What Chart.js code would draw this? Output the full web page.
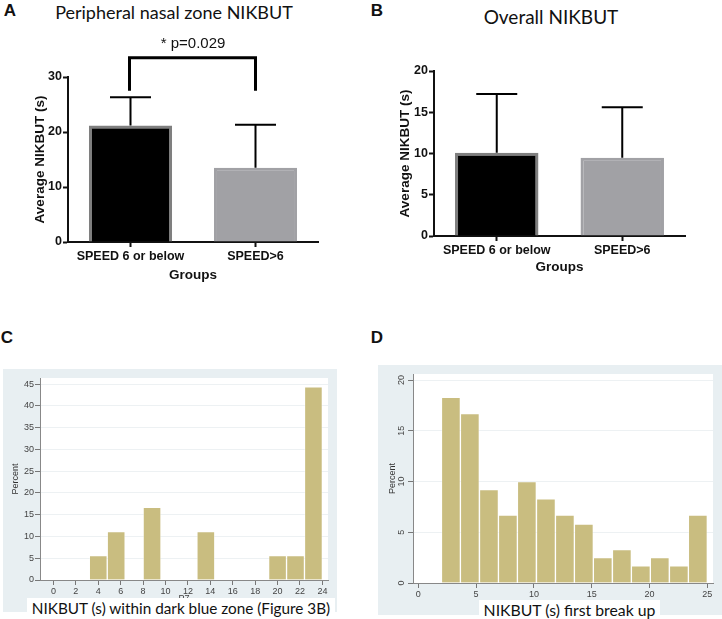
<!DOCTYPE html>
<html>
<head>
<meta charset="utf-8">
<script src="https://cdn.jsdelivr.net/npm/chart.js@4.4.1/dist/chart.umd.min.js"></script>
<style>
  body { margin: 0; width: 722px; height: 619px; position: relative; background: #fff; overflow: hidden;
         font-family: 'Liberation Sans', Arial, sans-serif; }
  .box { position: absolute; }
  .lbl { position: absolute; transform: translate(-50%, -50%); white-space: nowrap; color: #111; }
  .letter { font-weight: bold; font-size: 17px; }
  .ttl { font-family: Lato, 'Open Sans', sans-serif; font-size: 19px; }
  .cap { position: absolute; background: #fff; font-family: Lato, 'Open Sans', sans-serif; font-size: 15.5px;
         color: #111; text-align: center; white-space: nowrap; }
</style>
</head>
<body>

<div class="lbl letter" style="left:10px;top:11px">A</div>
<div class="lbl letter" style="left:377px;top:11px">B</div>
<div class="lbl letter" style="left:7px;top:338px">C</div>
<div class="lbl letter" style="left:377px;top:338px">D</div>
<div class="lbl ttl" style="left:174px;top:12px;font-size:18px">Peripheral nasal zone NIKBUT</div>
<div class="lbl ttl" style="left:551px;top:16px">Overall NIKBUT</div>

<div class="box" style="left:0;top:0;width:330px;height:290px"><canvas id="chartA"></canvas></div>
<div class="box" style="left:365px;top:0;width:330px;height:290px"><canvas id="chartB"></canvas></div>
<div class="box" style="left:3px;top:369px;width:334px;height:243px"><canvas id="chartC"></canvas></div>
<div class="box" style="left:378px;top:365px;width:344px;height:250px"><canvas id="chartD"></canvas></div>

<div class="cap" style="left:27px;top:598px;width:308px;height:21px;line-height:21px;font-size:15.3px">NIKBUT (s) within dark blue zone (Figure 3B)</div>
<div class="cap" style="left:479px;top:600px;width:181px;height:19px;line-height:19px;font-size:15.8px">NIKBUT (s) first break up</div>

<script>
// panels A and B: group means with upper SD bars
const groups = ['SPEED 6 or below', 'SPEED>6']
const peripheralMean = [21.2, 13.5]
const peripheralUpper = [26.3, 21.3]
const peripheralTicks = [0, 10, 20, 30]
const overallMean = [10.1, 9.5]
const overallUpper = [17.2, 15.6]
const overallTicks = [0, 5, 10, 15, 20]
const pValueText = '* p=0.029'

// panel C: histogram of NIKBUT within dark blue zone
const zoneBins = [0.8, 2.4, 4.0, 5.6, 7.2, 8.8, 10.4, 12.0, 13.6, 15.2, 16.8, 18.4, 20.0, 21.6, 23.2]
const zonePercent = [0, 0, 5.6, 11.1, 0, 16.7, 0, 0, 11.1, 0, 0, 0, 5.6, 5.6, 44.4]
const zoneTicksX = [0, 2, 4, 6, 8, 10, 12, 14, 16, 18, 20, 22, 24]
const zoneTicksY = [0, 5, 10, 15, 20, 25, 30, 35, 40, 45]

// panel D: histogram of NIKBUT first break up
const firstBins = [2.82, 4.46, 6.11, 7.75, 9.39, 11.04, 12.68, 14.32, 15.96, 17.61, 19.25, 20.89, 22.54, 24.18]
const firstPercent = [18.3, 16.7, 9.2, 6.7, 10.0, 8.3, 6.7, 5.8, 2.5, 3.3, 1.7, 2.5, 1.7, 6.7]
const firstTicksX = [0, 5, 10, 15, 20, 25]
const firstTicksY = [0, 5, 10, 15, 20]

const boldFont = { family: "'Liberation Sans', Arial, sans-serif", weight: 'bold' }
const smallFont = { family: "'Liberation Sans', Arial, sans-serif", size: 9 }
const tan = '#c9bd80'
const stataBg = '#e8eff2'

function errorBars(upper) {
    return {
        id: 'errorBars',
        afterDatasetsDraw(chart) {
            const ctx = chart.ctx
            const y = chart.scales.y
            ctx.save()
            ctx.strokeStyle = '#000'
            ctx.lineWidth = 2
            chart.getDatasetMeta(0).data.forEach((bar, i) => {
                const top = y.getPixelForValue(upper[i])
                ctx.beginPath()
                ctx.moveTo(bar.x, bar.y)
                ctx.lineTo(bar.x, top)
                ctx.moveTo(bar.x - 20.5, top)
                ctx.lineTo(bar.x + 20.5, top)
                ctx.stroke()
            })
            ctx.restore()
        }
    }
}

const significance = {
    id: 'significance',
    afterDraw(chart) {
        const ctx = chart.ctx
        const y = chart.scales.y
        const bars = chart.getDatasetMeta(0).data
        const top = y.getPixelForValue(33.5)
        const foot = y.getPixelForValue(27.5)
        ctx.save()
        ctx.strokeStyle = '#000'
        ctx.lineWidth = 3
        ctx.beginPath()
        ctx.moveTo(bars[0].x - 1, foot)
        ctx.lineTo(bars[0].x - 1, top)
        ctx.lineTo(bars[1].x, top)
        ctx.lineTo(bars[1].x, foot)
        ctx.stroke()
        ctx.fillStyle = '#111'
        ctx.font = "15px 'Liberation Sans', Arial, sans-serif"
        ctx.textAlign = 'center'
        ctx.textBaseline = 'middle'
        ctx.fillText(pValueText, (bars[0].x + bars[1].x) / 2, top - 14)
        ctx.restore()
    }
}

function groupChart(id, means, upper, ticks, pad, yWidth, xHeight, xTitlePad, extra) {
    return new Chart(document.getElementById(id), {
        type: 'bar',
        data: {
            labels: groups,
            datasets: [{
                data: means,
                backgroundColor: ['#000', '#a1a1a5'],
                borderColor: ['#7f7f7f', '#a1a1a5'],
                borderWidth: 3,
                categoryPercentage: 1,
                barPercentage: 0.665
            }]
        },
        options: {
            responsive: true,
            maintainAspectRatio: false,
            animation: false,
            layout: { padding: pad },
            plugins: { legend: { display: false }, tooltip: { enabled: false } },
            scales: {
                x: {
                    grid: { offset: false, drawOnChartArea: false, tickLength: 5, tickWidth: 2, tickColor: '#111' },
                    border: { color: '#111', width: 2 },
                    ticks: { color: '#111', font: { ...boldFont, size: 12.5 }, padding: 2 },
                    title: { display: true, text: 'Groups', color: '#111', font: { ...boldFont, size: 13.5 }, padding: { bottom: xTitlePad } },
                    afterFit(s) { s.height = xHeight }
                },
                y: {
                    min: 0,
                    max: ticks[ticks.length - 1],
                    afterBuildTicks(s) { s.ticks = ticks.map(v => ({ value: v })) },
                    grid: { drawOnChartArea: false, tickLength: 5, tickWidth: 2, tickColor: '#111' },
                    border: { color: '#111', width: 2 },
                    ticks: { color: '#111', font: { ...boldFont, size: 12.5 }, padding: 1 },
                    title: { display: true, text: 'Average NIKBUT (s)', color: '#111', font: { ...boldFont, size: 13.5 }, padding: { top: 32 } },
                    afterFit(s) { s.width = yWidth }
                }
            }
        },
        plugins: [errorBars(upper)].concat(extra)
    })
}

groupChart('chartA', peripheralMean, peripheralUpper, peripheralTicks,
    { top: 77, right: 12, left: 0, bottom: 0 }, 68, 48, 7, [significance])
groupChart('chartB', overallMean, overallUpper, overallTicks,
    { top: 71, right: 10, left: 0, bottom: 0 }, 69, 54, 15, [])

const stataPanel = {
    id: 'stataPanel',
    beforeDraw(chart) {
        const { ctx, chartArea: a } = chart
        ctx.save()
        ctx.fillStyle = stataBg
        ctx.fillRect(0, 0, chart.width, chart.height)
        ctx.fillStyle = '#fff'
        ctx.fillRect(a.left, a.top, a.right - a.left, a.bottom - a.top)
        ctx.restore()
    }
}

const verticalYLabels = {
    id: 'verticalYLabels',
    afterDraw(chart) {
        const { ctx } = chart
        const y = chart.scales.y
        ctx.save()
        ctx.fillStyle = '#444'
        ctx.font = "9px 'Liberation Sans', Arial, sans-serif"
        ctx.textAlign = 'center'
        ctx.textBaseline = 'middle'
        firstTicksY.forEach(v => {
            ctx.save()
            ctx.translate(y.right - 11, y.getPixelForValue(v))
            ctx.rotate(-Math.PI / 2)
            ctx.fillText(String(v), 0, 0)
            ctx.restore()
        })
        ctx.restore()
    }
}

function histChart(id, bins, values, o) {
    return new Chart(document.getElementById(id), {
        type: 'bar',
        data: {
            datasets: [{
                data: bins.map((b, i) => ({ x: b, y: values[i] })),
                backgroundColor: tan,
                borderColor: 'rgba(255,255,255,0.35)',
                borderWidth: 1,
                borderSkipped: 'bottom',
                categoryPercentage: 1,
                barPercentage: 1
            }]
        },
        options: {
            responsive: true,
            maintainAspectRatio: false,
            animation: false,
            layout: { padding: o.pad },
            plugins: { legend: { display: false }, tooltip: { enabled: false } },
            scales: {
                x: {
                    type: 'linear',
                    offset: false,
                    min: o.xMin,
                    max: o.xMax,
                    afterBuildTicks(s) { s.ticks = o.ticksX.map(v => ({ value: v })) },
                    grid: { offset: false, drawOnChartArea: false, tickLength: 5, tickColor: '#777' },
                    border: { color: '#888', width: 1 },
                    ticks: { color: '#444', font: smallFont, padding: 1, maxRotation: 0, autoSkip: false },
                    title: { display: !!o.xTitle, text: o.xTitle, color: '#444', font: smallFont, padding: { bottom: 8 } },
                    afterFit(s) { s.height = o.xHeight }
                },
                y: {
                    min: 0,
                    max: o.yMax,
                    afterBuildTicks(s) { s.ticks = o.ticksY.map(v => ({ value: v })) },
                    grid: { color: '#edf1f3', tickLength: 5, tickColor: '#777' },
                    border: { color: '#888', width: 1 },
                    ticks: { display: !o.rotateY, color: '#444', font: smallFont, padding: 1 },
                    title: { display: true, text: 'Percent', color: '#333', font: smallFont, padding: { top: o.yTitlePad } },
                    afterFit(s) { s.width = o.yWidth }
                }
            }
        },
        plugins: [stataPanel].concat(o.rotateY ? [verticalYLabels] : [])
    })
}

histChart('chartC', zoneBins, zonePercent, {
    pad: { top: 9, right: 9, left: 0, bottom: 0 },
    xMin: -1.2, xMax: 24.5, yMax: 46.4,
    ticksX: zoneTicksX, ticksY: zoneTicksY,
    xHeight: 32, yWidth: 37, yTitlePad: 7.6, xTitle: 'P7'
})

histChart('chartD', firstBins, firstPercent, {
    pad: { top: 9, right: 9, left: 0, bottom: 0 },
    xMin: -0.46, xMax: 25.49, yMax: 20.6,
    ticksX: firstTicksX, ticksY: firstTicksY,
    xHeight: 32, yWidth: 35, yTitlePad: 9.6, rotateY: true
})
</script>
</body>
</html>
